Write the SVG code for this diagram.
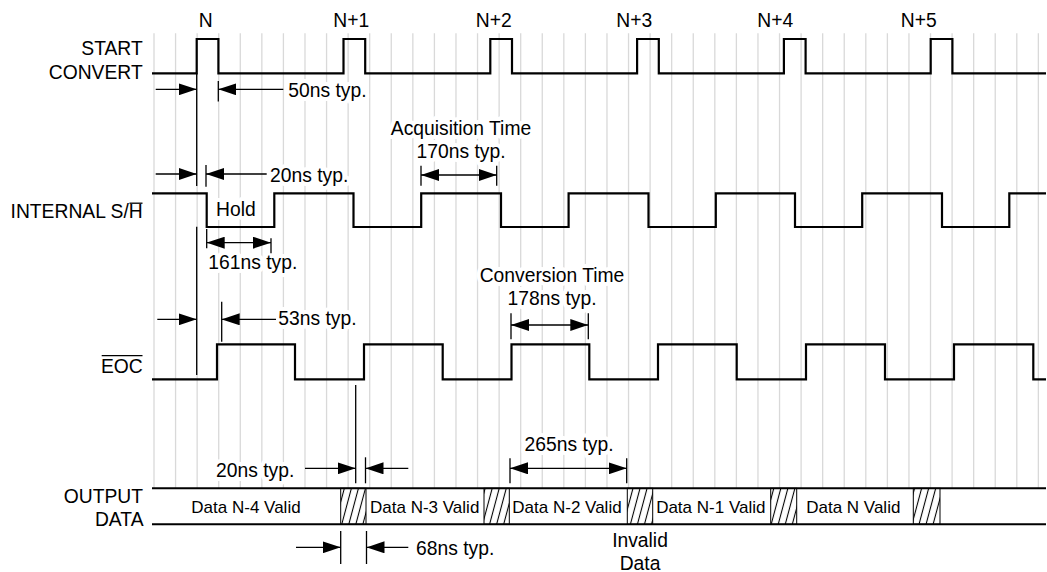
<svg xmlns="http://www.w3.org/2000/svg" width="1047" height="572" viewBox="0 0 1047 572">
<style>
text{font-family:"Liberation Sans",Arial,sans-serif;fill:#000}
.big{font-size:19.3px}
.dat{font-size:17px}
.halo{stroke:#fff;stroke-width:8;stroke-linejoin:round;paint-order:stroke}
.grid line{stroke:#d9d9d9;stroke-width:1.3}
.sig{fill:none;stroke:#000;stroke-width:2.2;stroke-linejoin:miter}
.dim{stroke:#000;stroke-width:1.3;fill:none}
.ar{marker-end:url(#ah)}
.ar2{marker-start:url(#ah);marker-end:url(#ah)}
.hatch{fill:url(#hp);stroke:#000;stroke-width:1}
</style>
<defs>
<marker id="ah" markerUnits="userSpaceOnUse" markerWidth="18" markerHeight="12" viewBox="0 0 18 12" refX="18" refY="6" orient="auto-start-reverse"><path d="M0,0 L18,6 L0,12 z" fill="#000"/></marker>
<pattern id="hp" patternUnits="userSpaceOnUse" width="6.8" height="6.8" patternTransform="rotate(15)"><rect width="6.8" height="6.8" fill="#fff"/><line x1="3.4" y1="-1" x2="3.4" y2="8" stroke="#000" stroke-width="1.1"/></pattern>
</defs>
<rect width="1047" height="572" fill="#fff"/>
<g id="grid" class="grid">
<line x1="154" y1="33.3" x2="154" y2="488"/><line x1="175.57" y1="33.3" x2="175.57" y2="488"/><line x1="197.14" y1="33.3" x2="197.14" y2="488"/><line x1="218.71" y1="33.3" x2="218.71" y2="488"/><line x1="240.28" y1="33.3" x2="240.28" y2="488"/><line x1="261.85" y1="33.3" x2="261.85" y2="488"/><line x1="283.42" y1="33.3" x2="283.42" y2="488"/><line x1="304.99" y1="33.3" x2="304.99" y2="488"/><line x1="326.56" y1="33.3" x2="326.56" y2="488"/><line x1="348.13" y1="33.3" x2="348.13" y2="488"/><line x1="369.7" y1="33.3" x2="369.7" y2="488"/><line x1="391.27" y1="33.3" x2="391.27" y2="488"/><line x1="412.84" y1="33.3" x2="412.84" y2="488"/><line x1="434.41" y1="33.3" x2="434.41" y2="488"/><line x1="455.98" y1="33.3" x2="455.98" y2="488"/><line x1="477.55" y1="33.3" x2="477.55" y2="488"/><line x1="499.12" y1="33.3" x2="499.12" y2="488"/><line x1="520.69" y1="33.3" x2="520.69" y2="488"/><line x1="542.26" y1="33.3" x2="542.26" y2="488"/><line x1="563.83" y1="33.3" x2="563.83" y2="488"/><line x1="585.4" y1="33.3" x2="585.4" y2="488"/><line x1="606.97" y1="33.3" x2="606.97" y2="488"/><line x1="628.54" y1="33.3" x2="628.54" y2="488"/><line x1="650.11" y1="33.3" x2="650.11" y2="488"/><line x1="671.68" y1="33.3" x2="671.68" y2="488"/><line x1="693.25" y1="33.3" x2="693.25" y2="488"/><line x1="714.82" y1="33.3" x2="714.82" y2="488"/><line x1="736.39" y1="33.3" x2="736.39" y2="488"/><line x1="757.96" y1="33.3" x2="757.96" y2="488"/><line x1="779.53" y1="33.3" x2="779.53" y2="488"/><line x1="801.1" y1="33.3" x2="801.1" y2="488"/><line x1="822.67" y1="33.3" x2="822.67" y2="488"/><line x1="844.24" y1="33.3" x2="844.24" y2="488"/><line x1="865.81" y1="33.3" x2="865.81" y2="488"/><line x1="887.38" y1="33.3" x2="887.38" y2="488"/><line x1="908.95" y1="33.3" x2="908.95" y2="488"/><line x1="930.52" y1="33.3" x2="930.52" y2="488"/><line x1="952.09" y1="33.3" x2="952.09" y2="488"/><line x1="973.66" y1="33.3" x2="973.66" y2="488"/><line x1="995.23" y1="33.3" x2="995.23" y2="488"/><line x1="1016.8" y1="33.3" x2="1016.8" y2="488"/><line x1="1038.37" y1="33.3" x2="1038.37" y2="488"/>
</g>
<g id="labels">
<text class="big halo" x="205.7" y="26.7" text-anchor="middle">N</text>
<text class="big halo" x="351.3" y="26.7" text-anchor="middle">N+1</text>
<text class="big halo" x="493.8" y="26.7" text-anchor="middle">N+2</text>
<text class="big halo" x="634.3" y="26.7" text-anchor="middle">N+3</text>
<text class="big halo" x="775.3" y="26.7" text-anchor="middle">N+4</text>
<text class="big halo" x="918.7" y="26.7" text-anchor="middle">N+5</text>
<text class="big halo" x="288.3" y="96.5">50ns typ.</text>
<text class="big halo" x="270" y="181.5">20ns typ.</text>
<text class="big halo" x="461" y="135" text-anchor="middle">Acquisition Time</text>
<text class="big halo" x="461" y="158.3" text-anchor="middle">170ns typ.</text>
<text class="big halo" x="216" y="216">Hold</text>
<text class="big halo" x="208.3" y="269.3">161ns typ.</text>
<text class="big halo" x="552" y="281.7" text-anchor="middle">Conversion Time</text>
<text class="big halo" x="552" y="305" text-anchor="middle">178ns typ.</text>
<text class="big halo" x="278.3" y="325">53ns typ.</text>
<text class="big halo" x="569" y="451" text-anchor="middle">265ns typ.</text>
<text class="big halo" x="216" y="476.7">20ns typ.</text>
<text class="big halo" x="416" y="555">68ns typ.</text>
<text class="big halo" x="640" y="547.3" text-anchor="middle">Invalid</text>
<text class="big halo" x="640" y="570" text-anchor="middle">Data</text>
</g>
<g id="start-convert">
<text class="big" x="142.7" y="55" text-anchor="end">START</text>
<text class="big" x="142.7" y="79" text-anchor="end">CONVERT</text>
<path class="sig" d="M152,73.3 H196.7 V39 H218.4 V73.3 H343.5 V39 H365.2 V73.3 H490.3 V39 H512 V73.3 H637.1 V39 H658.8 V73.3 H783.9 V39 H805.6 V73.3 H930.7 V39 H952.4 V73.3 H1046"/>
</g>
<g id="internal-sh">
<text class="big" x="142.7" y="218.3" text-anchor="end">INTERNAL S/H</text>
<line x1="129.5" y1="203.2" x2="142.5" y2="203.2" stroke="#000" stroke-width="1.3"/>
<path class="sig" d="M152,193.3 H206.7 V227 H274.3 V193.3 H353.5 V227 H421.2 V193.3 H501 V227 H568.6 V193.3 H648.5 V227 H715.8 V193.3 H795 V227 H862.2 V193.3 H942 V227 H1009.3 V193.3 H1046"/>
</g>
<g id="eoc">
<text class="big" x="142.7" y="372.7" text-anchor="end">EOC</text>
<line x1="101.7" y1="355.7" x2="142.5" y2="355.7" stroke="#000" stroke-width="1.3"/>
<path class="sig" d="M152,379.3 H217 V344.3 H295 V379.3 H364 V344.3 H442.7 V379.3 H511.5 V344.3 H589.3 V379.3 H658 V344.3 H736.7 V379.3 H806 V344.3 H885 V379.3 H954 V344.3 H1033.3 V379.3 H1046"/>
</g>
<g id="output-data">
<text class="big" x="143" y="503.3" text-anchor="end">OUTPUT</text>
<text class="big" x="143.5" y="526" text-anchor="end">DATA</text>
<rect class="hatch" x="340.7" y="488.3" width="25.3" height="36"/>
<rect class="hatch" x="484" y="488.3" width="25.3" height="36"/>
<rect class="hatch" x="627.3" y="488.3" width="25.4" height="36"/>
<rect class="hatch" x="770.7" y="488.3" width="26" height="36"/>
<rect class="hatch" x="913.3" y="488.3" width="26.7" height="36"/>
<line x1="152" y1="488.3" x2="1046" y2="488.3" stroke="#000" stroke-width="2"/>
<line x1="152" y1="524.3" x2="1046" y2="524.3" stroke="#000" stroke-width="2"/>
<text class="dat" x="246" y="513.3" text-anchor="middle">Data N-4 Valid</text>
<text class="dat" x="424.7" y="513.3" text-anchor="middle">Data N-3 Valid</text>
<text class="dat" x="567" y="513.3" text-anchor="middle">Data N-2 Valid</text>
<text class="dat" x="710.8" y="513.3" text-anchor="middle">Data N-1 Valid</text>
<text class="dat" x="853.3" y="513.3" text-anchor="middle">Data N Valid</text>
</g>
<g id="connectors">
<line class="dim" x1="196.7" y1="73.3" x2="196.7" y2="186"/>
<line class="dim" x1="196.7" y1="226.7" x2="196.7" y2="375"/>
<line class="dim ar" x1="155.7" y1="89.3" x2="196.7" y2="89.3"/>
<line class="dim" x1="218.3" y1="81" x2="218.3" y2="101.5"/>
<line class="dim ar" x1="283.3" y1="89.3" x2="218.3" y2="89.3"/>
<line class="dim ar" x1="155.7" y1="174" x2="196.7" y2="174"/>
<line class="dim" x1="206" y1="165" x2="206" y2="186.7"/>
<line class="dim ar" x1="266.7" y1="174" x2="206" y2="174"/>
<line class="dim" x1="421" y1="165.7" x2="421" y2="185.7"/>
<line class="dim" x1="496.7" y1="165.7" x2="496.7" y2="185.7"/>
<line class="dim ar2" x1="421" y1="175" x2="496.7" y2="175"/>
<line class="dim" x1="206.7" y1="229" x2="206.7" y2="248.3"/>
<line class="dim" x1="271" y1="238.3" x2="271" y2="253.3"/>
<line class="dim ar2" x1="206.7" y1="242.7" x2="271" y2="242.7"/>
<line class="dim ar" x1="157.3" y1="319.3" x2="196.7" y2="319.3"/>
<line class="dim" x1="221.7" y1="301.7" x2="221.7" y2="341.7"/>
<line class="dim ar" x1="276" y1="319.3" x2="221.7" y2="319.3"/>
<line class="dim" x1="511" y1="313.3" x2="511" y2="339.3"/>
<line class="dim" x1="588.3" y1="313.3" x2="588.3" y2="339.3"/>
<line class="dim ar2" x1="511" y1="325" x2="588.3" y2="325"/>
<line class="dim" x1="355.7" y1="385" x2="355.7" y2="483.3"/>
<line class="dim ar" x1="305" y1="468.3" x2="355.7" y2="468.3"/>
<line class="dim" x1="365.5" y1="457.3" x2="365.5" y2="483.3"/>
<line class="dim ar" x1="408.3" y1="468.3" x2="365.5" y2="468.3"/>
<line class="dim" x1="510" y1="458.3" x2="510" y2="483.3"/>
<line class="dim" x1="626.7" y1="458.3" x2="626.7" y2="483.3"/>
<line class="dim ar2" x1="510" y1="468.3" x2="626.7" y2="468.3"/>
<line class="dim ar" x1="296" y1="547.3" x2="340.7" y2="547.3"/>
<line class="dim" x1="340.7" y1="531" x2="340.7" y2="564"/>
<line class="dim" x1="366.5" y1="531" x2="366.5" y2="564"/>
<line class="dim ar" x1="408.3" y1="547.3" x2="366.5" y2="547.3"/>
</g>
</svg>
